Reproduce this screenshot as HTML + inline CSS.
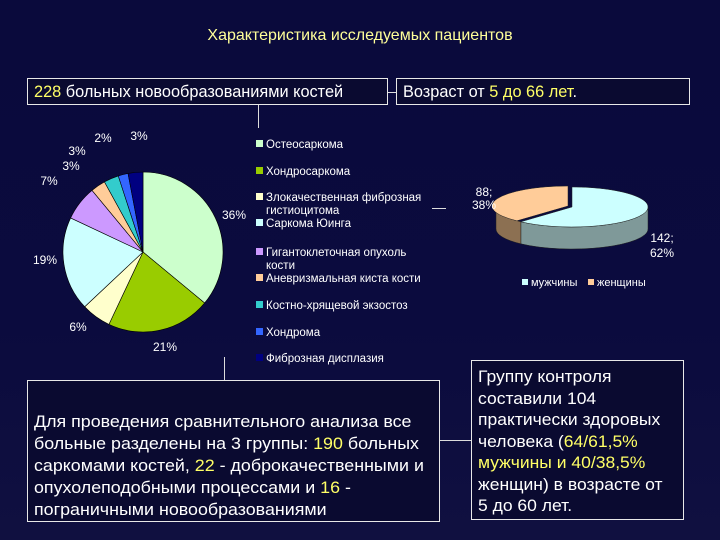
<!DOCTYPE html>
<html><head><meta charset="utf-8">
<style>
html,body{margin:0;padding:0}
body{width:720px;height:540px;overflow:hidden;position:relative;background:linear-gradient(180deg,#0a0a3c 0%,#0b0b3e 60%,#101040 100%);font-family:"Liberation Sans","DejaVu Sans",sans-serif;color:#fff}
.box{position:absolute;border:1px solid #e8e8e8;box-sizing:border-box;background:#0a0a30}
.y{color:#ffff66}
.ln{position:absolute;background:#ddd}
.cond{display:block;transform-origin:0 0;white-space:nowrap}
</style></head><body>
<div style="position:absolute;left:0;width:720px;top:27px;text-align:center;font-size:16px;color:#ffff99">Характеристика исследуемых пациентов</div>
<div class="box" style="left:27px;top:78px;width:361px;height:27px;font-size:17px;padding:3px 0 0 6px"><span class="cond" style="transform:scaleX(0.96)"><span class="y">228</span> больных новообразованиями костей</span></div>
<div class="box" style="left:396px;top:78px;width:294px;height:27px;font-size:17px;padding:3px 0 0 6px"><span class="cond" style="transform:scaleX(0.96)">Возраст от <span class="y">5 до 66 лет</span>.</span></div>
<div class="ln" style="left:388px;top:92px;width:8px;height:1px"></div>
<div class="ln" style="left:258px;top:105px;width:1px;height:23px"></div>
<div class="ln" style="left:224px;top:357px;width:1px;height:23px"></div>
<div class="ln" style="left:440px;top:440px;width:31px;height:1px"></div>
<div class="ln" style="left:432px;top:208px;width:14px;height:1px"></div>
<div class="box" style="left:27px;top:380px;width:413px;height:142px;font-size:17px;line-height:22px;padding:30px 0 0 6px"><span class="cond" style="transform:scaleX(1.05)">Для проведения сравнительного анализа все<br>больные разделены на 3 группы: <span class="y">190</span> больных<br>саркомами костей, <span class="y">22</span> - доброкачественными и<br>опухолеподобными процессами и <span class="y">16</span> -<br>пограничными новообразованиями</span></div>
<div class="box" style="left:471px;top:360px;width:213px;height:160px;font-size:17px;line-height:21.5px;padding:5px 0 0 6px"><span class="cond" style="transform:scaleX(1.03)">Группу контроля<br>составили 104<br>практически здоровых<br>человека (<span class="y">64/61,5%</span><br><span class="y">мужчины и 40/38,5%</span><br>женщин) в возрасте от<br>5 до 60 лет.</span></div>
<svg id="s" width="720" height="540" style="position:absolute;left:0;top:0"></svg>
<script>
const categories=["Остеосаркома","Хондросаркома","Злокачественная фиброзная гистиоцитома","Саркома Юинга","Гигантоклеточная опухоль кости","Аневризмальная киста кости","Костно-хрящевой экзостоз","Хондрома","Фиброзная дисплазия"];
const values=[36,21,6,19,7,3,3,2,3];
const colors=["#ccffcc","#99cc00","#ffffcc","#ccffff","#cc99ff","#ffcc99","#33cccc","#3366ff","#000080"];
const sexLabels=["мужчины","женщины"];
const sexValues=[142,88];
const sexPct=["62%","38%"];
const NS="http://www.w3.org/2000/svg";
const svg=document.getElementById('s');
function mk(t,a,p){const e=document.createElementNS(NS,t);for(const k in a)e.setAttribute(k,a[k]);(p||svg).appendChild(e);return e;}
const cx=143,cy=252,r=80;
const tot=values.reduce((a,b)=>a+b,0);
let acc=0;
const labelPos=[[234,219],[165,351],[78,331],[45,264],[49,185],[71,170],[77,155],[103,142],[139,140]];
values.forEach((v,i)=>{
 const a0=acc/tot*2*Math.PI;acc+=v;const a1=acc/tot*2*Math.PI;
 const x0=cx+r*Math.sin(a0),y0=cy-r*Math.cos(a0),x1=cx+r*Math.sin(a1),y1=cy-r*Math.cos(a1);
 const p=mk('path',{d:`M${cx},${cy}L${x0},${y0}A${r},${r} 0 ${a1-a0>Math.PI?1:0} 1 ${x1},${y1}Z`,fill:colors[i],stroke:'#000',"stroke-width":0.6});
 
 
 const t=mk('text',{x:labelPos[i][0],y:labelPos[i][1],"font-size":12,fill:'#fff',"text-anchor":"middle","font-family":"Liberation Sans"});
 t.textContent=v+"%";
 
 
});
const ly=[148,175,201,227,256,282,309,336,362];
categories.forEach((c,i)=>{
 mk('rect',{x:256,y:ly[i]-8,width:7,height:7,fill:colors[i]});
 const t=mk('text',{x:266,y:ly[i],"font-size":11.5,fill:'#fff',"font-family":"Liberation Sans"});
 
 
 if(i==2){t.innerHTML='<tspan x="266">Злокачественная фиброзная</tspan><tspan x="266" dy="13">гистиоцитома</tspan>';}
 else if(i==4){t.innerHTML='<tspan x="266">Гигантоклеточная опухоль</tspan><tspan x="266" dy="13">кости</tspan>';}
 else t.textContent=c;
});
const ex=572,ey=207,rx=76,ry=20,d=22;
const st=sexValues.reduce((a,b)=>a+b,0);
const split=sexValues[0]/st*2*Math.PI;
function pt(a,dy){return [ex+rx*Math.sin(a),ey-ry*Math.cos(a)+(dy||0)];}
function side(a0,a1,fill){const p0=pt(a0),p1=pt(a1);const s=mk('path',{d:`M${p0}A${rx},${ry} 0 0 1 ${p1}L${pt(a1,d)}A${rx},${ry} 0 0 0 ${pt(a0,d)}Z`,fill:fill,stroke:'#222',"stroke-width":0.5});}
side(Math.PI/2,Math.min(split,3*Math.PI/2),'#7f9999');
side(split,3*Math.PI/2,'#8c7052');
const top0=pt(0),topS=pt(split);
const m=mk('path',{d:`M${ex},${ey}L${top0}A${rx},${ry} 0 ${split>Math.PI?1:0} 1 ${topS}Z`,fill:'#ccffff',stroke:'#222',"stroke-width":0.5});


const w=mk('path',{d:`M${ex-4},${ey-1}L${pt(split).map((v,k)=>v-(k?1:4))}A${rx},${ry} 0 ${split<Math.PI?1:0} 1 ${top0[0]-4},${top0[1]-1}Z`,fill:'#ffcc99',stroke:'#222',"stroke-width":0.5});


[[sexValues[1]+";",484,196],[sexPct[1],484,209],[sexValues[0]+";",662,242],[sexPct[0],662,257]].forEach(a=>{const t=mk('text',{x:a[1],y:a[2],"font-size":12,fill:'#fff',"text-anchor":"middle","font-family":"Liberation Sans"});t.textContent=a[0];});
const lc=['#ccffff','#ffcc99'];const lx=[522,588];
sexLabels.forEach((s,i)=>{mk('rect',{x:lx[i],y:279,width:6,height:6,fill:lc[i]});const t=mk('text',{x:lx[i]+9,y:286,"font-size":11,fill:'#fff',"font-family":"Liberation Sans"});t.textContent=s;});
</script>
</body></html>
